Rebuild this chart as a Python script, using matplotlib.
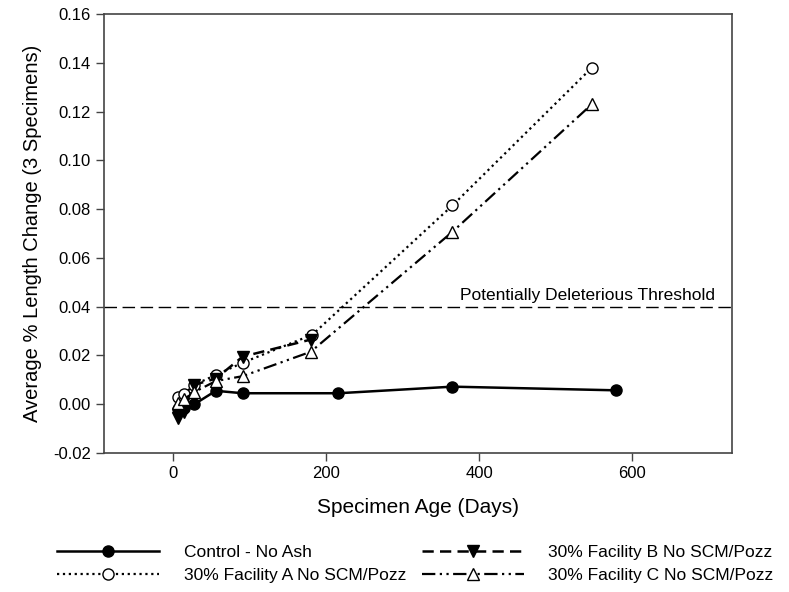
import matplotlib
matplotlib.use("Agg")
import matplotlib.pyplot as plt

plt.rcParams['font.family'] = ['Liberation Sans', 'DejaVu Sans']

# data
control_days = [7, 14, 28, 56, 91, 216, 365, 578]
control_vals = [-0.002, -0.0015, 0.0, 0.0055, 0.0045, 0.0045, 0.0072, 0.0057]

a_days = [7, 14, 28, 56, 91, 182, 365, 547]
a_vals = [0.003, 0.004, 0.008, 0.012, 0.017, 0.0285, 0.0815, 0.138]

b_days = [7, 14, 28, 56, 91, 180]
b_vals = [-0.0055, -0.003, 0.008, 0.0105, 0.0195, 0.0265]

c_days = [7, 14, 28, 56, 91, 180, 365, 547]
c_vals = [0.0005, 0.002, 0.005, 0.0095, 0.0115, 0.0215, 0.0707, 0.123]

threshold = 0.04
yticks = [-0.02, 0.00, 0.02, 0.04, 0.06, 0.08, 0.10, 0.12, 0.14, 0.16]
xticks = [0, 200, 400, 600]

fig = plt.figure(figsize=(7.89, 5.92), dpi=100)
ax = fig.add_axes([0.1318, 0.2348, 0.7960, 0.7416])

ax.plot(control_days, control_vals, '-', color='black', lw=1.8,
        marker='o', ms=8, mfc='black', label='Control - No Ash')
ax.plot(a_days, a_vals, ':', color='black', lw=1.6,
        marker='o', ms=8, mfc='white', mew=1.0, label='30% Facility A No SCM/Pozz')
ax.plot(b_days, b_vals, '--', color='black', lw=1.8, dashes=(4.5, 2.5),
        marker='v', ms=8, mfc='black', label='30% Facility B No SCM/Pozz')
ax.plot(c_days, c_vals, color='black', lw=1.6, dashes=(6, 2, 1, 2, 1, 2),
        marker='^', ms=8, mfc='white', mew=1.0, label='30% Facility C No SCM/Pozz')

ax.axhline(threshold, color='black', lw=1.0, dashes=(9, 4))
ax.text(708, threshold + 0.0013, 'Potentially Deleterious Threshold',
        ha='right', va='bottom', fontsize=12.5)

ax.set_xlim(-90, 730)
ax.set_ylim(-0.02, 0.16)
ax.set_xticks(xticks)
ax.set_yticks(yticks)
ax.set_yticklabels(['%.2f' % v for v in yticks])
ax.tick_params(direction='out', length=6, width=1, labelsize=12, color='#444444',
               top=False, right=False)
for s in ax.spines.values():
    s.set_color('#444444')
    s.set_linewidth(1.2)

ax.set_xlabel('Specimen Age (Days)', fontsize=15, labelpad=12)
ax.set_ylabel('Average % Length Change (3 Specimens)', fontsize=14.5, labelpad=8)

handles, labels = ax.get_legend_handles_labels()
fig.legend(handles, labels, ncol=2, loc='upper left',
           bbox_to_anchor=(57 / 789, 1 - 545 / 592),
           frameon=False, fontsize=12.5, handlelength=5.9, columnspacing=0.9,
           labelspacing=0.45, handletextpad=1.4, borderpad=0, borderaxespad=0)

fig.savefig('out.png', dpi=100)
